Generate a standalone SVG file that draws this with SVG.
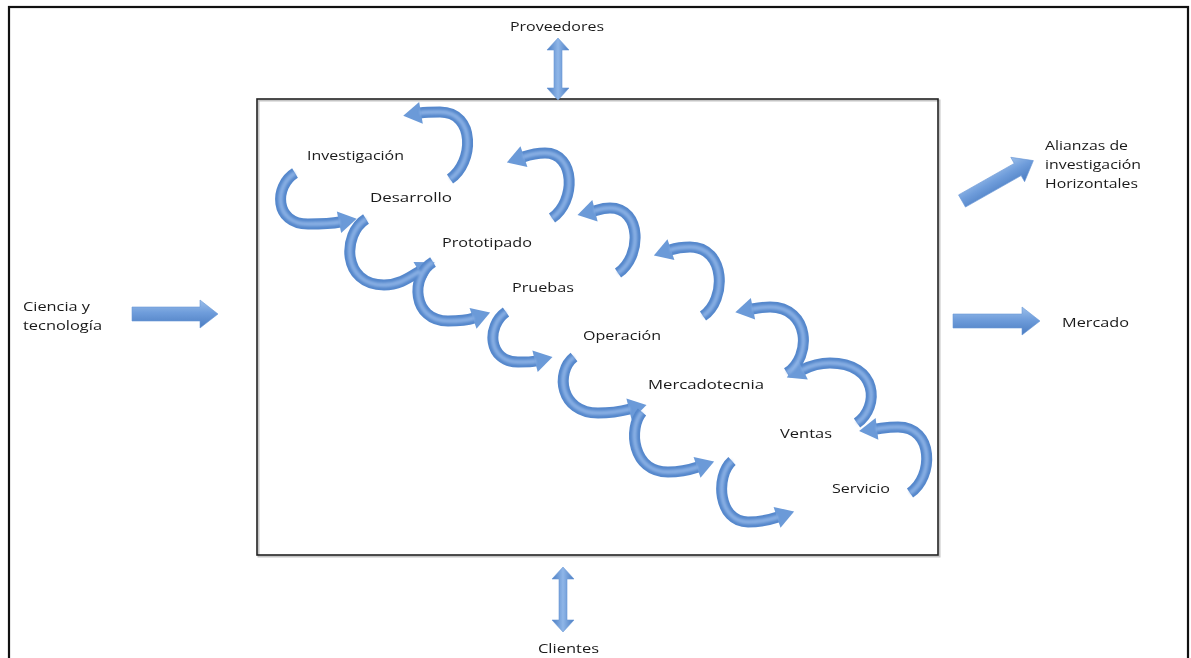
<svg xmlns="http://www.w3.org/2000/svg" width="1191" height="658" viewBox="0 0 1191 658">
<style>
.lbl{font-family:"Open Sans","Liberation Sans",sans-serif;font-size:13.5px;fill:#1a1a1a}
.band{fill:none;stroke:#5688cc;stroke-width:11;stroke-linecap:butt;marker-end:url(#head)}
.hl{fill:none;stroke:#96b9ea;stroke-width:4.5;stroke-linecap:butt;opacity:0.75}
.blockh{fill:url(#gv);stroke:#6a98d6;stroke-width:0.6}
.blockv{fill:url(#gh);stroke:#6a98d6;stroke-width:0.6}
</style>
<defs>
<linearGradient id="gv" x1="0" y1="0" x2="0" y2="1">
<stop offset="0" stop-color="#9cbfea"/><stop offset="0.45" stop-color="#6f9ddb"/><stop offset="1" stop-color="#4a7cc1"/>
</linearGradient>
<linearGradient id="gh" x1="0" y1="0" x2="1" y2="0">
<stop offset="0" stop-color="#4a7cc1"/><stop offset="0.5" stop-color="#8fb6e8"/><stop offset="1" stop-color="#4a7cc1"/>
</linearGradient>
<filter id="soft" x="-10%" y="-10%" width="120%" height="120%"><feGaussianBlur stdDeviation="1.1"/></filter>
<marker id="head" markerUnits="userSpaceOnUse" markerWidth="20" markerHeight="26" viewBox="0 -13 19 26" refX="1" refY="0" orient="auto">
<path d="M0,-11 L18,0 L0,11 Z" fill="#6b9ad8"/>
</marker>
</defs>
<rect width="1191" height="658" fill="#ffffff"/>
<rect id="frame" x="9" y="7" width="1179" height="700" fill="none" stroke="#111" stroke-width="2.2"/>
<g id="process-box">
<rect x="258.5" y="100.5" width="681" height="456" fill="none" stroke="#c4c4c4" stroke-width="2"/>
<rect x="257" y="99" width="681" height="456" fill="none" stroke="#222" stroke-width="1.6"/>
</g>
<g id="connectors">
<g id="curves-left">
<path class="band" d="M295,173 C274,186 274,224 308,224 C320,224 330,224 340,222"/>
<path class="band" d="M366,219 C342,234 342,285 384,285 C400,285 410,277 420,271"/>
<path class="band" d="M433,262 C410,276 412,321 448,321 C460,321 468,320 474,318"/>
<path class="band" d="M506,312 C486,326 488,362 518,362 C526,362 532,362 536,361"/>
<path class="band" d="M574,357 C555,372 560,413 598,413 C612,413 622,411 630,409"/>
<path class="band" d="M642,412 C628,428 632,472 668,472 C682,472 692,469 698,467"/>
<path class="band" d="M732,461 C715,476 718,522 748,522 C762,522 772,519 778,517"/>
</g>
<g id="curves-right">
<path class="band" d="M450,179 C474,163 476,112 440,112 C432,112 426,112 420,113"/>
<path class="band" d="M552,218 C576,202 576,153 545,153 C536,153 529,155 523,157"/>
<path class="band" d="M618,273 C642,257 642,208 610,208 C602,208 598,210 594,211"/>
<path class="band" d="M703,316 C727,300 726,247 690,247 C682,247 676,248 670,250"/>
<path class="band" d="M787,373 C812,357 810,307 770,307 C763,307 757,308 752,309"/>
<path class="band" d="M857,423 C880,407 878,363 830,363 C818,363 810,366 802,370"/>
<path class="band" d="M910,493 C934,477 934,427 898,427 C888,427 884,428 876,429"/>
</g>
<g id="curve-highlights" filter="url(#soft)">
<path class="hl" d="M295,173 C274,186 274,224 308,224 C320,224 330,224 340,222"/>
<path class="hl" d="M366,219 C342,234 342,285 384,285 C400,285 410,277 420,271"/>
<path class="hl" d="M433,262 C410,276 412,321 448,321 C460,321 468,320 474,318"/>
<path class="hl" d="M506,312 C486,326 488,362 518,362 C526,362 532,362 536,361"/>
<path class="hl" d="M574,357 C555,372 560,413 598,413 C612,413 622,411 630,409"/>
<path class="hl" d="M642,412 C628,428 632,472 668,472 C682,472 692,469 698,467"/>
<path class="hl" d="M732,461 C715,476 718,522 748,522 C762,522 772,519 778,517"/>
<path class="hl" d="M450,179 C474,163 476,112 440,112 C432,112 426,112 420,113"/>
<path class="hl" d="M552,218 C576,202 576,153 545,153 C536,153 529,155 523,157"/>
<path class="hl" d="M618,273 C642,257 642,208 610,208 C602,208 598,210 594,211"/>
<path class="hl" d="M703,316 C727,300 726,247 690,247 C682,247 676,248 670,250"/>
<path class="hl" d="M787,373 C812,357 810,307 770,307 C763,307 757,308 752,309"/>
<path class="hl" d="M857,423 C880,407 878,363 830,363 C818,363 810,366 802,370"/>
<path class="hl" d="M910,493 C934,477 934,427 898,427 C888,427 884,428 876,429"/>
</g>
<polygon id="arrow-proveedores" class="blockv" points="558,38 569,50 562,50 562,88 569,88 558,100 547,88 554,88 554,50 547,50"/>
<polygon id="arrow-clientes" class="blockv" points="563,567 574,579 567,579 567,620 574,620 563,632 552,620 559,620 559,579 552,579"/>
<polygon id="arrow-ciencia" class="blockh" points="132,307 200,307 200,300 218,314 200,328 200,321 132,321"/>
<polygon id="arrow-mercado" class="blockh" points="953,314 1022,314 1022,307 1040,321 1022,335 1022,328 953,328"/>
<polygon id="arrow-alianzas" class="blockh" transform="translate(962,201) rotate(-29.5)" points="0,-7 64,-7 64,-14 82,0 64,14 64,7 0,7"/>
</g>
<g id="n-proveedores"><text class="lbl" x="510" y="31" textLength="94" lengthAdjust="spacingAndGlyphs">Proveedores</text></g>
<g id="n-clientes"><text class="lbl" x="538" y="653" textLength="61" lengthAdjust="spacingAndGlyphs">Clientes</text></g>
<g id="n-ciencia">
<text class="lbl" x="23" y="311" textLength="67" lengthAdjust="spacingAndGlyphs">Ciencia y</text>
<text class="lbl" x="23" y="330" textLength="79" lengthAdjust="spacingAndGlyphs">tecnología</text>
</g>
<g id="n-mercado"><text class="lbl" x="1062" y="327" textLength="67" lengthAdjust="spacingAndGlyphs">Mercado</text></g>
<g id="n-alianzas">
<text class="lbl" x="1045" y="150" textLength="83" lengthAdjust="spacingAndGlyphs">Alianzas de</text>
<text class="lbl" x="1045" y="169" textLength="96" lengthAdjust="spacingAndGlyphs">investigación</text>
<text class="lbl" x="1045" y="188" textLength="93" lengthAdjust="spacingAndGlyphs">Horizontales</text>
</g>
<g id="n-investigacion"><text class="lbl" x="307" y="160" textLength="97" lengthAdjust="spacingAndGlyphs">Investigación</text></g>
<g id="n-desarrollo"><text class="lbl" x="370" y="202" textLength="82" lengthAdjust="spacingAndGlyphs">Desarrollo</text></g>
<g id="n-prototipado"><text class="lbl" x="442" y="247" textLength="90" lengthAdjust="spacingAndGlyphs">Prototipado</text></g>
<g id="n-pruebas"><text class="lbl" x="512" y="292" textLength="62" lengthAdjust="spacingAndGlyphs">Pruebas</text></g>
<g id="n-operacion"><text class="lbl" x="583" y="340" textLength="78" lengthAdjust="spacingAndGlyphs">Operación</text></g>
<g id="n-mercadotecnia"><text class="lbl" x="648" y="389" textLength="116" lengthAdjust="spacingAndGlyphs">Mercadotecnia</text></g>
<g id="n-ventas"><text class="lbl" x="780" y="438" textLength="52" lengthAdjust="spacingAndGlyphs">Ventas</text></g>
<g id="n-servicio"><text class="lbl" x="832" y="493" textLength="58" lengthAdjust="spacingAndGlyphs">Servicio</text></g>
</svg>
